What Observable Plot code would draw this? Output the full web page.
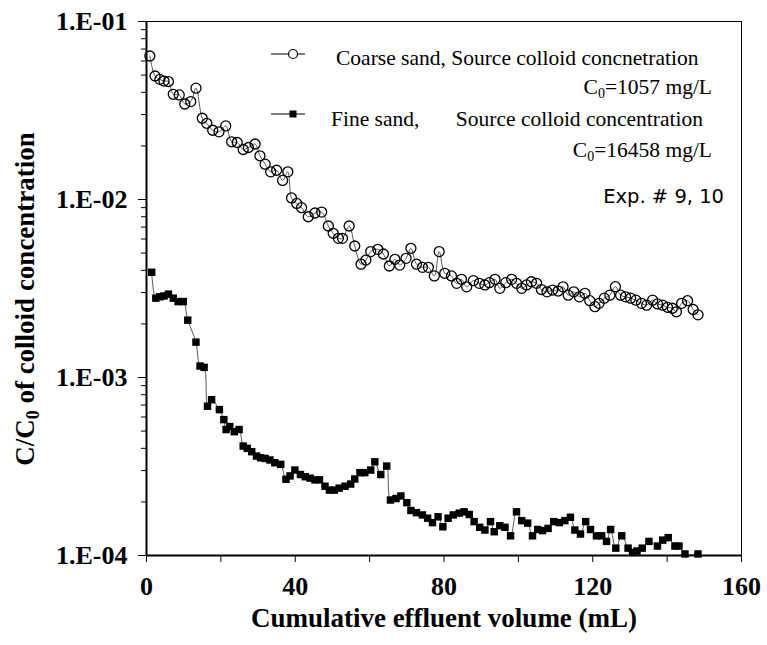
<!DOCTYPE html>
<html><head><meta charset="utf-8">
<script src="https://cdn.jsdelivr.net/npm/d3@7"></script>
<script src="https://cdn.jsdelivr.net/npm/@observablehq/plot@0.6"></script>
<style>body{margin:0;background:#fff}</style>
</head><body><div id="chart"></div>
<script>
// Coarse sand (open circles)
const coarseX = [0.9,2.3,3.6,4.7,5.9,7.2,8.8,10.3,11.9,13.3,15.0,16.2,17.8,19.5,21.3,22.9,24.4,26.0,27.4,29.2,30.5,31.9,33.4,35.0,36.6,38.0,39.0,40.4,41.7,43.5,45.3,47.1,48.9,50.2,51.6,52.7,54.5,56.0,57.7,59.0,60.3,62.2,63.7,65.3,66.8,68.1,69.8,71.1,72.6,74.2,75.8,77.4,78.7,80.2,82.0,83.4,84.7,86.1,87.9,89.5,91.0,92.2,93.7,95.0,96.6,98.2,99.5,100.9,102.2,103.5,104.9,106.2,107.7,109.2,110.7,112.0,113.4,114.9,116.4,117.9,119.2,120.6,121.7,123.1,124.6,126.1,127.5,128.8,130.2,131.6,133.1,134.5,136.1,137.4,138.8,140.1,141.4,142.5,143.9,145.5,147.0,148.3];
const coarseY = [0.064,0.0494,0.0473,0.0463,0.046,0.039,0.0387,0.0344,0.0355,0.0422,0.0286,0.0268,0.0245,0.024,0.0259,0.0211,0.0209,0.0191,0.0196,0.0205,0.0176,0.0158,0.0143,0.0146,0.0128,0.0143,0.0102,0.0095,0.0090,0.0080,0.0084,0.0085,0.0071,0.00646,0.00605,0.00605,0.0071,0.00548,0.00433,0.00457,0.0051,0.00525,0.00494,0.00423,0.00461,0.00428,0.00467,0.00532,0.00433,0.00416,0.00416,0.00372,0.0051,0.00385,0.00372,0.00338,0.00356,0.00323,0.0035,0.00338,0.00331,0.00341,0.00356,0.00317,0.00341,0.00356,0.00338,0.00317,0.00331,0.00345,0.00338,0.00312,0.00303,0.0031,0.00306,0.00323,0.0029,0.00303,0.00284,0.00297,0.0027,0.0025,0.00261,0.00279,0.0029,0.00324,0.0029,0.00284,0.00279,0.00272,0.00261,0.00255,0.00272,0.00259,0.00255,0.00248,0.00245,0.00234,0.00261,0.0027,0.00241,0.00225];

// Fine sand (filled squares)
const fineX = [1.4,2.5,3.6,4.7,5.9,7.2,8.5,9.9,11.1,13.3,14.4,15.5,16.4,17.5,19.6,20.8,21.4,22.4,23.6,24.9,26.0,27.1,28.3,29.6,30.7,31.9,33.2,34.5,36.1,37.5,38.6,39.9,41.4,42.7,44.0,45.3,46.5,48.0,49.2,50.5,51.8,53.4,54.9,56.0,57.4,58.7,60.3,61.4,63.0,64.6,65.6,67.1,68.4,70.0,71.1,72.6,74.2,75.6,76.9,78.4,79.7,81.1,82.5,84.1,85.4,86.8,88.1,89.6,91.0,92.5,93.5,95.0,96.4,97.9,99.5,100.9,102.5,103.8,105.2,106.5,108.0,109.5,111.0,112.5,114.0,115.2,116.7,118.1,119.4,121.0,122.4,123.7,124.8,126.2,127.8,129.5,130.7,131.9,133.3,135.1,137.4,138.8,140.3,142.1,143.2,144.8,148.3];
const fineY = [0.0039,0.00279,0.00284,0.00287,0.00294,0.00279,0.00267,0.00267,0.0021,0.00158,0.00116,0.00114,0.00069,0.00075,0.00066,0.00058,0.00051,0.00053,0.000496,0.00051,0.000412,0.0004,0.000383,0.000362,0.000354,0.000351,0.000344,0.000332,0.000325,0.000268,0.00028,0.000302,0.000285,0.000277,0.000272,0.000266,0.000266,0.000245,0.000233,0.000233,0.000239,0.000245,0.000252,0.000269,0.000292,0.000292,0.000302,0.000336,0.000285,0.000318,0.000205,0.000209,0.000216,0.000198,0.000179,0.000174,0.000169,0.000162,0.000153,0.000165,0.000145,0.000162,0.000169,0.000173,0.000176,0.00017,0.000155,0.000144,0.000139,0.000155,0.000136,0.000147,0.000144,0.000129,0.000176,0.000157,0.000152,0.000129,0.00014,0.000138,0.000142,0.000155,0.000153,0.000157,0.000164,0.000139,0.000132,0.000155,0.00014,0.000129,0.000129,0.00012,0.00014,0.00011,0.000129,0.00011,0.000104,0.000106,0.00011,0.00012,0.000113,0.000122,0.000126,0.000113,0.000113,0.000102,0.000102];

const yTickValues = [1e-1, 1e-2, 1e-3, 1e-4];
const yTickLabels = ["1.E-01", "1.E-02", "1.E-03", "1.E-04"];
const xTickValues = [0, 20, 40, 60, 80, 100, 120, 140, 160];
const xTickLabels = ["0", "", "40", "", "80", "", "120", "", "160"];

const xTitle = "Cumulative effluent volume (mL)";
const yTitleParts = ["C/C", "0", " of colloid concentration"];
const legendCoarse = "Coarse sand, Source colloid concnetration";
const legendCoarseC0 = ["C", "0", "=1057 mg/L"];
const legendFineA = "Fine sand,";
const legendFineB = "Source colloid concentration";
const legendFineC0 = ["C", "0", "=16458 mg/L"];
const expNote = "Exp. # 9, 10";

const coarse = coarseX.map((x, i) => ({x, y: coarseY[i]}));
const fine = fineX.map((x, i) => ({x, y: fineY[i]}));
const yMinor = [-4, -3, -2].flatMap(e => [2,3,4,5,6,7,8,9].map(m => m * Math.pow(10, e)));

const serif = "'Liberation Serif','Times New Roman',Times,serif";

const plot = Plot.plot({
  width: 767, height: 645,
  marginLeft: 146, marginRight: 26, marginTop: 21, marginBottom: 90,
  style: {fontFamily: serif, background: "white", color: "black"},
  x: {domain: [0, 160], label: null},
  y: {type: "log", domain: [1e-4, 1e-1], label: null},
  marks: [
    Plot.frame({stroke: "black", strokeWidth: 1}),
    Plot.axisY(yMinor, {tickSize: 5, tickFormat: () => "", label: null}),
    Plot.axisY(yTickValues, {tickSize: 8, tickPadding: 11, tickFormat: d => yTickLabels[yTickValues.indexOf(d)], fontSize: 26, fontWeight: "bold", label: null}),
    Plot.axisX(xTickValues, {tickSize: 7, tickPadding: 14, tickFormat: d => xTickLabels[xTickValues.indexOf(d)], fontSize: 26, fontWeight: "bold", label: null}),
    Plot.ruleX([0], {stroke: "black", strokeWidth: 2}),
    Plot.ruleY([1e-4], {stroke: "black", strokeWidth: 2}),
    Plot.line(coarse, {x: "x", y: "y", curve: "catmull-rom", stroke: "#444", strokeWidth: 0.9}),
    Plot.line(fine, {x: "x", y: "y", curve: "catmull-rom", stroke: "#444", strokeWidth: 0.9}),
    Plot.dot(coarse, {x: "x", y: "y", symbol: "circle", r: 5, fill: "none", stroke: "black", strokeWidth: 1.3}),
    Plot.dot(fine, {x: "x", y: "y", symbol: "square", r: 4.2, fill: "black", stroke: "none"})
  ]
});
document.getElementById("chart").appendChild(plot);

const svg = d3.select(plot);

function txt(sel, x, y, anchor, family, size, weight) {
  return sel.append("text").attr("x", x).attr("y", y)
    .style("text-anchor", anchor).style("font-family", family)
    .style("font-size", size + "px").style("font-weight", weight || "normal")
    .style("fill", "black");
}

// Axis titles
txt(svg, 444, 627, "middle", serif, 27, "bold").text(xTitle);

const yt = txt(svg, 0, 0, "middle", serif, 27, "bold").attr("transform", "translate(34,299) rotate(-90)");
yt.append("tspan").text(yTitleParts[0]);
yt.append("tspan").style("font-size", "18px").attr("dy", 5).text(yTitleParts[1]);
yt.append("tspan").attr("dy", -5).text(yTitleParts[2]);

// Legend
const lg = svg.append("g");
function sym(y, kind) {
  lg.append("line").attr("x1", 271).attr("x2", 305).attr("y1", y).attr("y2", y).attr("stroke", "black").attr("stroke-width", 1);
  if (kind === "circle") {
    lg.append("circle").attr("cx", 293).attr("cy", y).attr("r", 4.5).attr("fill", "white").attr("stroke", "black").attr("stroke-width", 1.2);
  } else {
    lg.append("rect").attr("x", 289.5).attr("y", y - 3.5).attr("width", 7).attr("height", 7).attr("fill", "black");
  }
}
function c0(x, y, parts) {
  const t = txt(lg, x, y, "end", serif, 21.5);
  t.append("tspan").text(parts[0]);
  t.append("tspan").style("font-size", "14px").attr("dy", 4).text(parts[1]);
  t.append("tspan").attr("dy", -4).text(parts[2]);
}
sym(54, "circle");
txt(lg, 336, 65, "start", serif, 21.5).text(legendCoarse);
c0(712, 93.5, legendCoarseC0);
sym(114, "square");
txt(lg, 331, 126, "start", serif, 21.5).text(legendFineA);
txt(lg, 703, 126, "end", serif, 21.5).text(legendFineB);
c0(712, 157, legendFineC0);
txt(svg, 724, 202.5, "end", "'DejaVu Sans',Verdana,sans-serif", 19.5).text(expNote);
</script>
</body></html>
